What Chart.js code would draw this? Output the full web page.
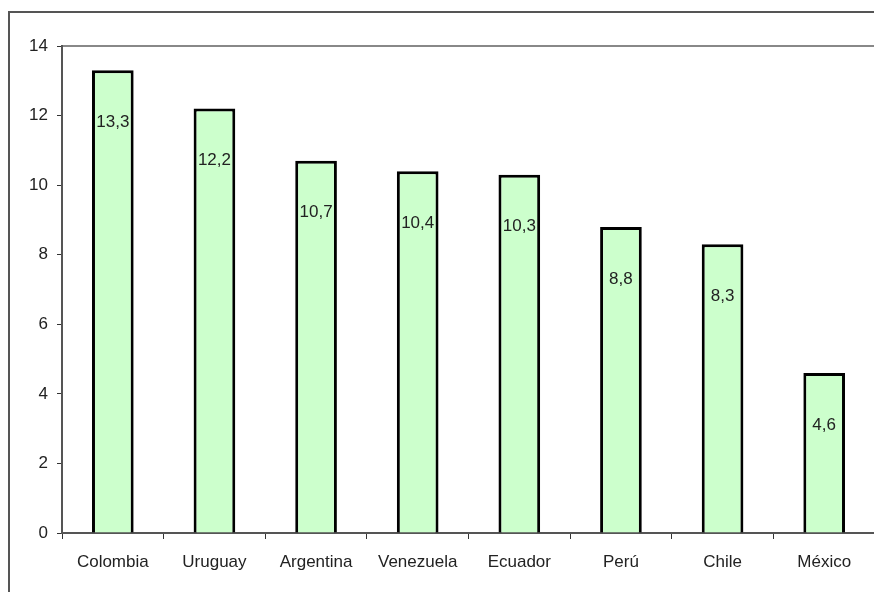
<!DOCTYPE html>
<html>
<head>
<meta charset="utf-8">
<script src="https://cdn.jsdelivr.net/npm/chart.js@4/dist/chart.umd.min.js"></script>
<style>
  html, body { margin: 0; padding: 0; background: #fff; }
  #wrap { position: relative; width: 874px; height: 592px; overflow: hidden; }
  #wrap canvas { position: absolute; left: 0; top: 0; }
</style>
</head>
<body>
<div id="wrap"><canvas id="c" width="876" height="592"></canvas></div>
<script>
// Countries and their values
const countries = ['Colombia', 'Uruguay', 'Argentina', 'Venezuela', 'Ecuador', 'Perú', 'Chile', 'México'];
const values = [13.3, 12.2, 10.7, 10.4, 10.3, 8.8, 8.3, 4.6];
const yTicks = [0, 2, 4, 6, 8, 10, 12, 14];

const FONT = '"Liberation Sans", Arial, sans-serif';
const fmt = v => v.toFixed(1).replace('.', ',');

// Outer frame and the top edge of the plot area
const framePlugin = {
  id: 'frame',
  beforeDraw(chart) {
    const ctx = chart.ctx;
    const a = chart.chartArea;
    ctx.save();
    ctx.strokeStyle = '#555';
    ctx.lineWidth = 2;
    ctx.beginPath();
    ctx.moveTo(9, chart.height + 5);
    ctx.lineTo(9, 12);
    ctx.lineTo(chart.width + 5, 12);
    ctx.stroke();
    ctx.strokeStyle = '#888';
    ctx.lineWidth = 2;
    ctx.beginPath();
    ctx.moveTo(a.left, a.top);
    ctx.lineTo(chart.width + 5, a.top);
    ctx.stroke();
    ctx.restore();
  }
};

// Value labels placed inside each bar, below its top
const labelPlugin = {
  id: 'valueLabels',
  afterDatasetsDraw(chart) {
    const ctx = chart.ctx;
    const meta = chart.getDatasetMeta(0);
    ctx.save();
    ctx.font = '17px ' + FONT;
    ctx.fillStyle = '#222';
    ctx.textAlign = 'center';
    ctx.textBaseline = 'middle';
    meta.data.forEach((bar, i) => {
      ctx.fillText(fmt(values[i]), bar.x, bar.y + 52);
    });
    ctx.restore();
  }
};

new Chart(document.getElementById('c'), {
  type: 'bar',
  data: {
    labels: countries,
    datasets: [{
      data: values,
      backgroundColor: '#CCFFCC',
      borderColor: '#000',
      borderWidth: 3,
      borderSkipped: 'start',
      categoryPercentage: 1,
      barPercentage: 0.41
    }]
  },
  options: {
    responsive: false,
    animation: false,
    devicePixelRatio: 1,
    layout: { padding: { top: 46, right: 1, left: 0, bottom: 0 } },
    plugins: { legend: { display: false }, tooltip: { enabled: false } },
    scales: {
      x: {
        offset: true,
        grid: { offset: true, drawOnChartArea: false, drawTicks: true, tickLength: 6, color: '#333', lineWidth: 1 },
        border: { color: '#555', width: 2 },
        ticks: { color: '#222', font: { family: FONT, size: 17 }, padding: 13, maxRotation: 0 },
        afterFit(scale) { scale.height = 592 - 533; }
      },
      y: {
        min: 0,
        max: 14,
        afterBuildTicks(scale) { scale.ticks = yTicks.map(v => ({ value: v })); },
        grid: { drawOnChartArea: false, drawTicks: true, tickLength: 5, color: '#333' },
        border: { color: '#555', width: 2 },
        ticks: { color: '#222', font: { family: FONT, size: 17 }, padding: 9 },
        afterFit(scale) { scale.width = 62; }
      }
    }
  },
  plugins: [framePlugin, labelPlugin]
});
</script>
</body>
</html>
